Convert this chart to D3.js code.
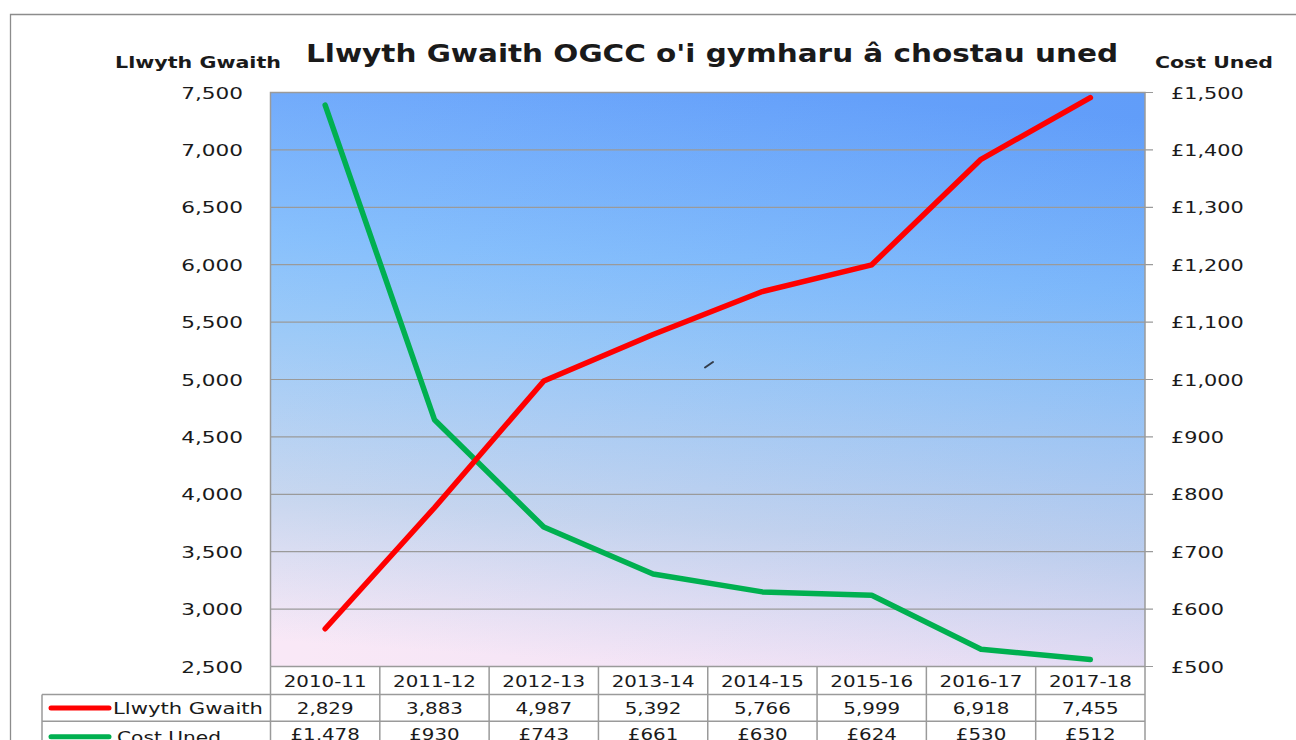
<!DOCTYPE html>
<html>
<head>
<meta charset="utf-8">
<script src="https://cdn.jsdelivr.net/npm/d3@7"></script>
<style>
  html, body { margin: 0; padding: 0; background: #ffffff; }
  svg { display: block; }
  text { font-family: "DejaVu Sans", Verdana, sans-serif; fill: #1a1a1a; }
</style>
</head>
<body>
<svg id="chart" width="1296" height="740"></svg>
<script>
// ---- Data ----
const categories = ["2010-11", "2011-12", "2012-13", "2013-14", "2014-15", "2015-16", "2016-17", "2017-18"];
const workload = [2829, 3883, 4987, 5392, 5766, 5999, 6918, 7455];
const unitCost = [1478, 930, 743, 661, 630, 624, 530, 512];
const leftTicks = [2500, 3000, 3500, 4000, 4500, 5000, 5500, 6000, 6500, 7000, 7500];
const rightTicks = [500, 600, 700, 800, 900, 1000, 1100, 1200, 1300, 1400, 1500];
const seriesNames = ["Llwyth Gwaith", "Cost Uned"];
const titleText = "Llwyth Gwaith OGCC o'i gymharu â chostau uned";

// ---- Layout ----
const svg = d3.select("#chart");
const plot = { left: 270.5, right: 1145, top: 92.5, bottom: 666.5 };
const rowH = 26.8;

const x = d3.scaleBand().domain(categories).range([plot.left, plot.right]).padding(0);
const yL = d3.scaleLinear().domain([2500, 7500]).range([plot.bottom, plot.top]);
const yR = d3.scaleLinear().domain([500, 1500]).range([plot.bottom, plot.top]);

const fmtN = d3.format(",");
const fmtP = v => "£" + d3.format(",")(v);

// chart outer border
svg.append("path").attr("d", "M10.5,740 L10.5,14.5 L1296,14.5")
  .attr("fill", "none").attr("stroke", "#8c8c8c").attr("stroke-width", 1.3);

// gradient background
const defs = svg.append("defs");
const g1 = defs.append("linearGradient").attr("id", "bg").attr("x1", "0.55").attr("y1", "0").attr("x2", "0.45").attr("y2", "1");
[[0, "#64a1fb"], [0.3, "#80bcfc"], [0.45, "#94c6f8"], [0.75, "#c4d4ee"], [1, "#f9e7f6"]]
  .forEach(([o, c]) => g1.append("stop").attr("offset", o).attr("stop-color", c));
const g2 = defs.append("linearGradient").attr("id", "bgx").attr("x1", "0").attr("y1", "0").attr("x2", "1").attr("y2", "0");
g2.append("stop").attr("offset", 0).attr("stop-color", "#ffffff").attr("stop-opacity", 0.06);
g2.append("stop").attr("offset", 1).attr("stop-color", "#3060e0").attr("stop-opacity", 0.06);

svg.append("rect").attr("x", plot.left).attr("y", plot.top)
  .attr("width", plot.right - plot.left).attr("height", plot.bottom - plot.top)
  .attr("fill", "url(#bg)");
svg.append("rect").attr("x", plot.left).attr("y", plot.top)
  .attr("width", plot.right - plot.left).attr("height", plot.bottom - plot.top)
  .attr("fill", "url(#bgx)");

// gridlines (extend right as secondary axis ticks)
svg.append("g").selectAll("line").data(leftTicks).join("line")
  .attr("x1", plot.left).attr("x2", plot.right + 8)
  .attr("y1", d => yL(d)).attr("y2", d => yL(d))
  .attr("stroke", "#9a9a9a").attr("stroke-width", 1.2);

// plot border
svg.append("path")
  .attr("d", `M${plot.left},${plot.bottom} L${plot.left},${plot.top} L${plot.right},${plot.top} L${plot.right},${plot.bottom}`)
  .attr("fill", "none").attr("stroke", "#9a9a9a").attr("stroke-width", 1.5);

// helper: horizontally stretched text
function stretchText(g, tx, ty, str, anchor, size, sx, weight) {
  return g.append("text")
    .attr("transform", `translate(${tx},${ty}) scale(${sx},1)`)
    .attr("text-anchor", anchor)
    .attr("font-size", size)
    .attr("font-weight", weight || "normal")
    .text(str);
}

// left axis labels
const gl = svg.append("g");
leftTicks.forEach(t => stretchText(gl, 243, yL(t) + 6, fmtN(t), "end", 16, 1.35));
// right axis labels
const gr = svg.append("g");
rightTicks.forEach(t => stretchText(gr, 1171, yR(t) + 6, fmtP(t), "start", 16, 1.3));

// axis titles & chart title
svg.append("text").attr("x", 115).attr("y", 68).attr("font-size", 15.5).attr("font-weight", "bold")
  .attr("textLength", 166).attr("lengthAdjust", "spacingAndGlyphs").text(seriesNames[0]);
svg.append("text").attr("x", 1155).attr("y", 68).attr("font-size", 15.5).attr("font-weight", "bold")
  .attr("textLength", 118).attr("lengthAdjust", "spacingAndGlyphs").text(seriesNames[1]);
svg.append("text").attr("x", 306).attr("y", 62).attr("font-size", 24).attr("font-weight", "bold")
  .attr("font-family", "'Open Sans', 'DejaVu Sans', sans-serif")
  .attr("textLength", 812).attr("lengthAdjust", "spacingAndGlyphs").text(titleText);

// stray mark in plot area
svg.append("line").attr("x1", 705).attr("y1", 367.5).attr("x2", 713).attr("y2", 362)
  .attr("stroke", "#333c4a").attr("stroke-width", 2).attr("stroke-linecap", "round");

// lines
const cx = d => x(d) + x.bandwidth() / 2;
const lineL = d3.line().x((d, i) => cx(categories[i])).y(d => yL(d));
const lineR = d3.line().x((d, i) => cx(categories[i])).y(d => yR(d));
svg.append("path").datum(unitCost).attr("d", lineR)
  .attr("fill", "none").attr("stroke", "#00b050").attr("stroke-width", 5.5)
  .attr("stroke-linecap", "round").attr("stroke-linejoin", "round");
svg.append("path").datum(workload).attr("d", lineL)
  .attr("fill", "none").attr("stroke", "#ff0000").attr("stroke-width", 5.5)
  .attr("stroke-linecap", "round").attr("stroke-linejoin", "round");

// ---- data table ----
const tb = svg.append("g");
const r0 = plot.bottom, r1 = r0 + 28, r2 = r1 + rowH, r3 = r2 + rowH;
const gridStroke = "#9a9a9a";
// horizontal lines
tb.append("line").attr("x1", plot.left).attr("x2", plot.right).attr("y1", r0).attr("y2", r0).attr("stroke", gridStroke).attr("stroke-width", 1.5);
tb.append("line").attr("x1", 42).attr("x2", plot.right).attr("y1", r1).attr("y2", r1).attr("stroke", gridStroke).attr("stroke-width", 1.5);
tb.append("line").attr("x1", 42).attr("x2", plot.right).attr("y1", r2).attr("y2", r2).attr("stroke", gridStroke).attr("stroke-width", 1.5);
// vertical lines
const vx = categories.map(c => x(c)).concat([plot.right]);
tb.selectAll("line.v").data(vx).join("line").attr("class", "v")
  .attr("x1", d => d).attr("x2", d => d).attr("y1", r0).attr("y2", r3 + 10)
  .attr("stroke", gridStroke).attr("stroke-width", 1.5);
tb.append("line").attr("x1", 42).attr("x2", 42).attr("y1", r1).attr("y2", r3 + 10).attr("stroke", gridStroke).attr("stroke-width", 1.5);

categories.forEach((c, i) => {
  stretchText(tb, cx(c), r0 + 20, c, "middle", 15.5, 1.28);
  stretchText(tb, cx(c), r1 + 19, fmtN(workload[i]), "middle", 15.5, 1.28);
  stretchText(tb, cx(c), r2 + 19, fmtP(unitCost[i]), "middle", 15.5, 1.28);
});

// legend keys
const keys = [{ name: seriesNames[0], color: "#ff0000", y: r1 + rowH / 2, tl: 150 },
              { name: seriesNames[1], color: "#00b050", y: r2 + rowH / 2 + 2, tl: 104 }];
keys.forEach(k => {
  tb.append("line").attr("x1", 51).attr("x2", 109).attr("y1", k.y).attr("y2", k.y)
    .attr("stroke", k.color).attr("stroke-width", 5).attr("stroke-linecap", "round");
  tb.append("text").attr("x", k === keys[0] ? 113 : 117).attr("y", k.y + 6).attr("font-size", 15.5)
    .attr("textLength", k.tl).attr("lengthAdjust", "spacingAndGlyphs").text(k.name);
});
</script>
</body>
</html>
